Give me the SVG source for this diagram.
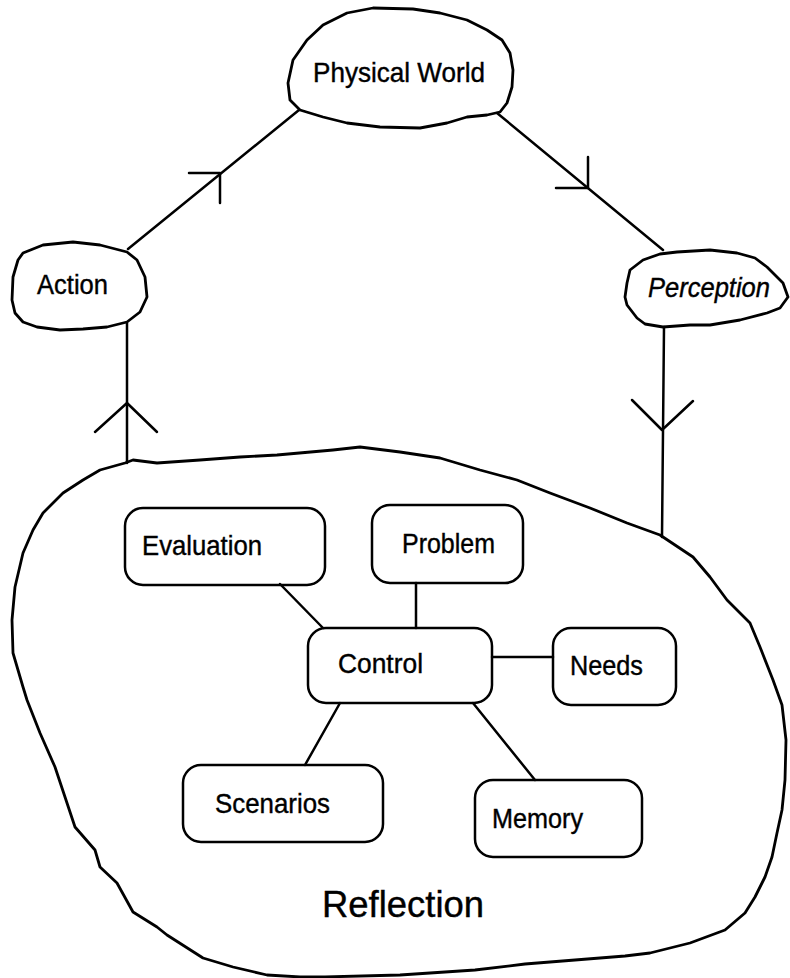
<svg xmlns="http://www.w3.org/2000/svg" width="790" height="978" viewBox="0 0 790 978">
  <style>
    .blob { fill: none; stroke: #000; stroke-width: 2.8; stroke-linejoin: round; stroke-linecap: round; }
    .box { fill: none; stroke: #000; stroke-width: 2.5; }
    .wire { fill: none; stroke: #000; stroke-width: 2.5; stroke-linecap: round; stroke-linejoin: round; }
    .lbl { font-family: "Liberation Sans", Arial, sans-serif; font-size: 27.5px; fill: #000; stroke: #000; stroke-width: 0.4; }
    .big { font-family: "Liberation Sans", Arial, sans-serif; font-size: 36px; fill: #000; stroke: #000; stroke-width: 0.4; }
  </style>
  <rect width="790" height="978" fill="#fff"/>

  <!-- Reflection region (large hand-drawn outline) -->
  <g id="reflection">
    <path class="blob" d="M125,463 L133,460 L157,463 L200,460 L240,457 L277,455 L333,450 L360,447 L400,452 L440,458 L480,470 L517,480 L550,493 L590,508 L627,523 L660,535 L693,557 L710,577 L727,600 L750,623 L760,647 L773,680 L782,705 L786,740 L785,780 L782,810 L777,833 L772,857 L765,877 L755,897 L745,913 L725,930 L690,943 L650,953 L625,956 L575,960 L525,964 L475,970 L400,975 L325,977 L300,977 L267,975 L233,967 L203,958 L167,935 L157,927 L133,912 L117,883 L100,867 L95,850 L75,827 L55,767 L40,733 L27,700 L23,687 L13,653 L12,620 L15,587 L23,553 L33,530 L43,513 L63,493 L83,480 L100,470 Z"/>
    <text class="big" x="322" y="917" textLength="162" lengthAdjust="spacingAndGlyphs">Reflection</text>
  </g>

  <!-- Outer nodes -->
  <g id="physical-world">
    <path class="blob" d="M323,25 L347,13 L373,8 L413,9 L440,13 L467,20 L487,30 L502,40 L510,53 L513,70 L512,87 L507,103 L500,112 L487,115 L467,117 L447,123 L420,128 L380,127 L347,123 L323,117 L300,110 L290,100 L288,83 L293,60 L307,40 Z"/>
    <text class="lbl" x="313" y="82" textLength="172" lengthAdjust="spacingAndGlyphs">Physical World</text>
  </g>

  <g id="action">
    <path class="blob" d="M18,260 L23,253 L43,245 L73,242 L100,245 L127,252 L137,260 L145,277 L147,297 L140,312 L127,322 L107,327 L83,329 L60,330 L37,327 L23,322 L15,313 L12,300 L13,277 Z"/>
    <text class="lbl" x="37" y="294" textLength="71" lengthAdjust="spacingAndGlyphs">Action</text>
  </g>

  <g id="perception">
    <path class="blob" d="M627,283 L630,270 L643,260 L660,254 L677,252 L710,250 L737,253 L755,258 L767,267 L783,283 L788,297 L780,308 L767,313 L740,320 L710,325 L690,325 L663,327 L645,324 L637,318 L627,305 L625,297 Z"/>
    <text class="lbl" x="648" y="297" font-style="italic" textLength="122" lengthAdjust="spacingAndGlyphs">Perception</text>
  </g>

  <!-- Inner nodes -->
  <g id="evaluation">
    <rect class="box" x="125" y="508" width="200" height="77" rx="18"/>
    <text class="lbl" x="142" y="555" textLength="120" lengthAdjust="spacingAndGlyphs">Evaluation</text>
  </g>
  <g id="problem">
    <rect class="box" x="372" y="505" width="151" height="78" rx="18"/>
    <text class="lbl" x="402" y="553" textLength="93" lengthAdjust="spacingAndGlyphs">Problem</text>
  </g>
  <g id="control">
    <rect class="box" x="308" y="628" width="184" height="75" rx="18"/>
    <text class="lbl" x="338" y="673" textLength="85" lengthAdjust="spacingAndGlyphs">Control</text>
  </g>
  <g id="needs">
    <rect class="box" x="553" y="628" width="123" height="77" rx="18"/>
    <text class="lbl" x="570" y="675" textLength="73" lengthAdjust="spacingAndGlyphs">Needs</text>
  </g>
  <g id="scenarios">
    <rect class="box" x="183" y="765" width="200" height="77" rx="18"/>
    <text class="lbl" x="215" y="813" textLength="115" lengthAdjust="spacingAndGlyphs">Scenarios</text>
  </g>
  <g id="memory">
    <rect class="box" x="475" y="780" width="167" height="77" rx="18"/>
    <text class="lbl" x="492" y="828" textLength="91" lengthAdjust="spacingAndGlyphs">Memory</text>
  </g>

  <!-- Connectors -->
  <g id="connectors">
    <!-- Action -> Physical World -->
    <path class="wire" d="M128,249 L299,110"/>
    <path class="wire" d="M189,173 L220,173 L220,203"/>
    <!-- Physical World -> Perception -->
    <path class="wire" d="M497,113 L663,250"/>
    <path class="wire" d="M588,157 L588,188 L556,188"/>
    <!-- Perception -> Reflection -->
    <path class="wire" d="M664,327 L662,537"/>
    <path class="wire" d="M632,400 L662,430 L693,401"/>
    <!-- Reflection -> Action -->
    <path class="wire" d="M127,323 L127,463"/>
    <path class="wire" d="M95,432 L127,403 L157,432"/>
    <!-- Links around Control -->
    <path class="wire" d="M280,584 L323,628"/>
    <path class="wire" d="M416,583 L416,628"/>
    <path class="wire" d="M492,657 L553,657"/>
    <path class="wire" d="M340,703 L305,765"/>
    <path class="wire" d="M473,703 L535,780"/>
  </g>
</svg>
